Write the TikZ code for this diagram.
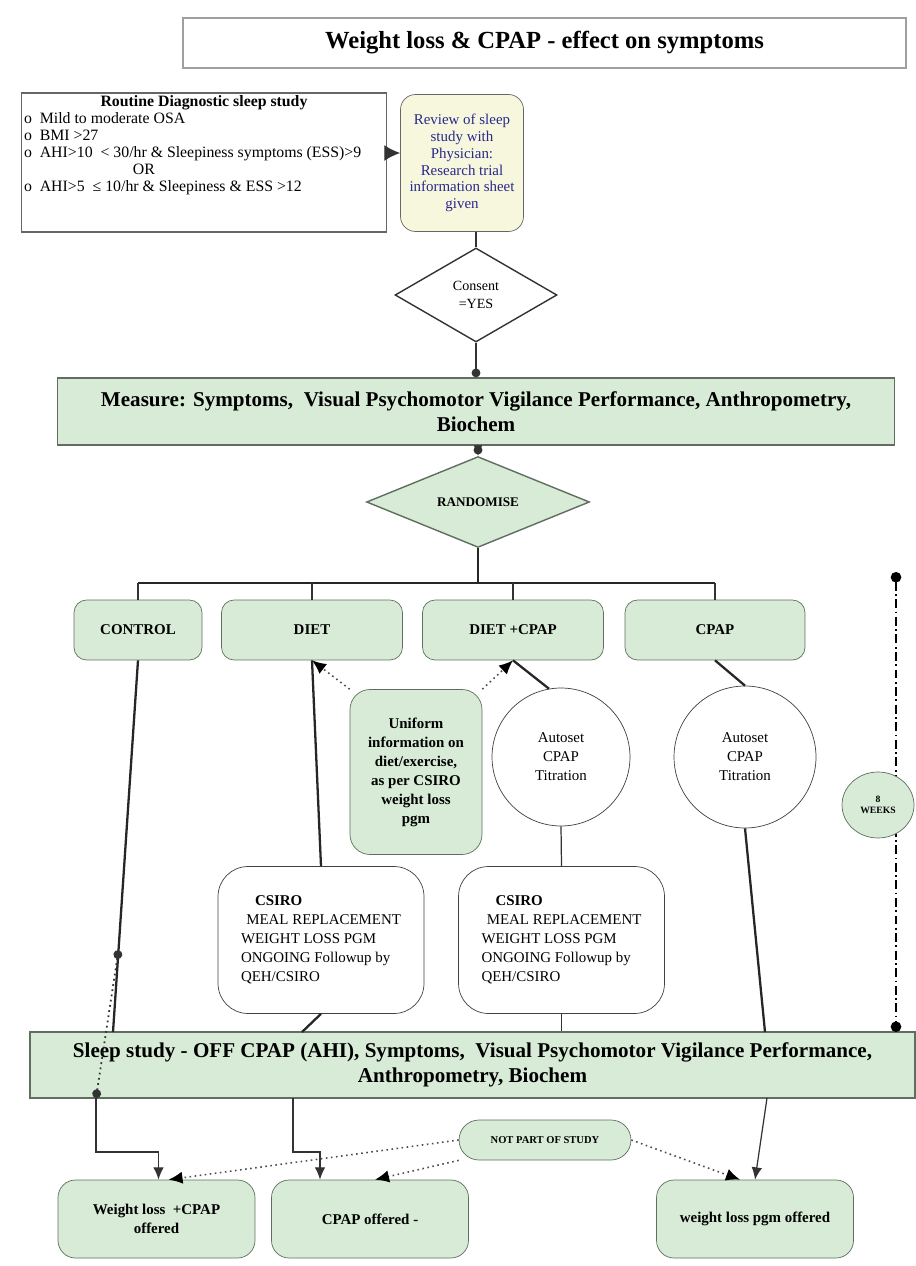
\documentclass[tikz,border=0pt]{standalone}
\usepackage{fontspec}
\setmainfont{Liberation Serif}
\usetikzlibrary{shapes.geometric,arrows.meta,calc}
\definecolor{boxgreen}{RGB}{215,235,215}
\definecolor{boxedge}{RGB}{95,110,95}
\definecolor{notecream}{RGB}{247,247,222}
\definecolor{notetext}{RGB}{40,40,140}

\begin{document}
\begin{tikzpicture}[x=0.02cm, y=-0.02cm,
        titlebox/.style={draw=gray!75, line width=1pt, minimum width=14.46cm, minimum height=1cm, font=\fontsize{14}{16}\selectfont\bfseries},
        critbox/.style={draw=gray!80!black, line width=0.8pt, inner sep=1.5pt, font=\fontsize{9}{9.7}\selectfont},
        reviewbox/.style={draw=gray!80!black, fill=notecream, rounded corners=0.3cm, minimum width=2.46cm, minimum height=2.74cm, inner sep=1pt, align=center, text=notetext, font=\fontsize{8.5}{9.6}\selectfont},
        choicebox/.style={diamond, draw=black!80, line width=0.8pt, fill=white, inner sep=0pt, align=center, font=\fontsize{8}{10}\selectfont},
        greenbox/.style={draw=boxedge, fill=boxgreen, line width=0.8pt, align=center, font=\fontsize{12}{14.5}\selectfont\bfseries},
        groupbox/.style={draw=boxedge, fill=boxgreen, rounded corners=0.25cm, minimum height=1.2cm, font=\fontsize{8.5}{10}\selectfont\bfseries},
        infobox/.style={draw=boxedge, fill=boxgreen, rounded corners=0.4cm, minimum width=2.64cm, minimum height=3.3cm, inner sep=1pt, align=center, font=\fontsize{8.5}{10.8}\selectfont\bfseries},
        autobox/.style={circle, draw=black!75, fill=white, inner sep=0pt, align=center, font=\fontsize{8.5}{10.8}\selectfont},
        csirobox/.style={draw=black!75, fill=white, rounded corners=0.6cm, minimum width=4.12cm, minimum height=2.94cm, align=left, font=\fontsize{8.5}{10.8}\selectfont},
        outbox/.style={draw=boxedge, fill=boxgreen, rounded corners=0.35cm, minimum width=3.94cm, minimum height=1.56cm, align=center, font=\fontsize{8.5}{10.5}\selectfont\bfseries},
        notebox/.style={draw=boxedge, fill=boxgreen, rounded corners=0.4cm, minimum width=3.44cm, minimum height=0.8cm, font=\fontsize{6}{7}\selectfont\bfseries},
        weekbox/.style={ellipse, draw=boxedge, fill=boxgreen, minimum width=1.44cm, minimum height=1.32cm, inner sep=0pt, align=center, font=\fontsize{5.5}{6.5}\selectfont\bfseries},
        link/.style={draw=black!80, line width=0.7pt},
        heavylink/.style={draw=black!85, line width=1.3pt},
        arrow/.style={link, -{Latex[length=7pt,width=6pt]}},
        dotarrow/.style={draw=black!70, line width=0.9pt, dotted, -{Latex[length=8pt,width=7pt,color=black]}},
        dashdot/.style={draw=black, line width=0.9pt, dash pattern=on 5pt off 2pt on 1pt off 2pt}
    ]
    \useasboundingbox (0,0) rectangle (915,1266);
    % Nodes
    \node[titlebox] (title) at (544.5,43) {Weight loss \& CPAP - effect on symptoms};
    \node[critbox] (crit) at (204,162.5) {\parbox[c][2.68cm][t]{7.2cm}{%
        {\centering\textbf{Routine Diagnostic sleep study}\par}
        \raggedright
        o\enspace Mild to moderate OSA\par
        o\enspace BMI >27\par
        o\enspace AHI>10\enspace < 30/hr \& Sleepiness symptoms (ESS)>9\par
        \hspace*{62pt}OR\par
        o\enspace AHI>5\enspace ≤ 10/hr \& Sleepiness \& ESS >12\par}};
    \node[reviewbox] (review) at (462,163) {Review of sleep\\study with\\Physician:\\Research trial\\information sheet\\given};
    \node[choicebox, minimum width=3.24cm, minimum height=1.88cm] (consent) at (476,295) {Consent\\=YES};
    \node[greenbox, minimum width=16.74cm, minimum height=1.34cm] (measure) at (476,411.5) {Measure: Symptoms,\ \ Visual Psychomotor Vigilance Performance, Anthropometry,\\Biochem};
    \node[choicebox, fill=boxgreen, draw=boxedge, minimum width=4.46cm, minimum height=1.46cm, font=\fontsize{7.5}{9}\selectfont\bfseries] (rand) at (478,502) {RANDOMISE};
    \node[groupbox, minimum width=2.56cm] (control) at (138,630) {CONTROL};
    \node[groupbox, minimum width=3.62cm] (diet) at (312,630) {DIET};
    \node[groupbox, minimum width=3.62cm] (dietcpap) at (513,630) {DIET +CPAP};
    \node[groupbox, minimum width=3.6cm] (cpap) at (715,630) {CPAP};
    \node[infobox] (uniform) at (416,772) {Uniform\\information on\\diet/exercise,\\as per CSIRO\\weight loss\\pgm};
    \node[autobox, minimum size=2.76cm] (auto1) at (561,757) {Autoset\\CPAP\\Titration};
    \node[autobox, minimum size=2.84cm] (auto2) at (745,757) {Autoset\\CPAP\\Titration};
    \node[csirobox] (csiro1) at (321,940) {\hspace*{8pt}\textbf{CSIRO}\\\hspace*{3pt}MEAL REPLACEMENT\\WEIGHT LOSS PGM\\ONGOING Followup by\\QEH/CSIRO};
    \node[csirobox] (csiro2) at (561.5,940) {\hspace*{8pt}\textbf{CSIRO}\\\hspace*{3pt}MEAL REPLACEMENT\\WEIGHT LOSS PGM\\ONGOING Followup by\\QEH/CSIRO};
    \node[greenbox, minimum width=17.7cm, minimum height=1.32cm] (sleep) at (472.5,1065) {Sleep study - OFF CPAP (AHI), Symptoms,\ \ Visual Psychomotor Vigilance Performance,\\Anthropometry, Biochem};
    \node[notebox] (notpart) at (545,1140) {NOT PART OF STUDY};
    \node[outbox] (wlcpap) at (156.5,1219) {Weight loss\ \ +CPAP\\offered};
    \node[outbox] (cpapoff) at (370,1219) {CPAP offered -};
    \node[outbox] (wlpgm) at (755,1219) {weight loss pgm offered};
    % Edges
    \draw[arrow, -{Latex[length=9pt,width=9pt]}] ([yshift=0.19cm]crit.east) -- ([yshift=0.19cm]crit.east -| review.west);
    \draw[link] (consent.north |- review.south) -- (consent.north);
    \draw[link, -{Circle[length=5pt]}] (consent.south) -- (measure.north -| consent.south);
    \draw[link, {Circle[length=5pt]}-{Latex[length=6pt,width=5pt]}] (measure.south -| rand.north) -- (rand.north);
    \coordinate (bus) at (478,583);
    \draw[heavylink] (rand.south) -- (bus);
    \draw[heavylink] (control.north |- bus) -- (cpap.north |- bus);
    \foreach \g in {control,diet,dietcpap,cpap}
        \draw[link] (\g.north |- bus) -- (\g.north);
    \draw[dotarrow] (uniform.north west) -- (diet.south);
    \draw[dotarrow] (uniform.north east) -- (dietcpap.south);
    % control arm
    \coordinate (ctrlin) at (113,1032);
    \coordinate (ctrldot) at ($(control.south)!0.78!(ctrlin)$);
    \coordinate (ctrlout) at (96,1098);
    \draw[heavylink] (control.south) -- (ctrlin);
    \draw[draw=black!80, line width=1pt, dotted, {Circle[length=5pt]}-{Circle[length=5pt]}] (ctrldot) -- (ctrlout);
    \draw[arrow] (ctrlout) -- ++(0,54) -| ([xshift=0.04cm]wlcpap.north);
    % diet arm
    \coordinate (dietin) at (302,1032);
    \coordinate (dietout) at (293,1098);
    \draw[heavylink] (diet.south) -- (csiro1.north);
    \draw[heavylink] (csiro1.south) -- (dietin);
    \draw[arrow] (dietout) -- ++(0,54) -| ([xshift=-1cm]cpapoff.north);
    % diet + cpap arm
    \draw[heavylink] (dietcpap.south) -- (auto1.100);
    \draw[link] (auto1.south) -- (csiro2.north);
    \draw[link] (csiro2.south) -- (csiro2.south |- sleep.north);
    % cpap arm
    \coordinate (cpapin) at (765,1032);
    \coordinate (cpapout) at (767,1098);
    \draw[heavylink] (cpap.south) -- (auto2.north);
    \draw[heavylink] (auto2.south) -- (cpapin);
    \draw[arrow] (cpapout) -- (wlpgm.north);
    % not part of study
    \draw[dotarrow] (notpart.west) -- ([xshift=0.24cm]wlcpap.north);
    \draw[dotarrow] (notpart.south west) -- ([xshift=0.1cm]cpapoff.north);
    \draw[dotarrow] (notpart.east) -- ([xshift=-0.3cm]wlpgm.north);
    % 8 weeks
    \coordinate (weektop) at (896,572);
    \coordinate (weekbot) at (896,1032);
    \draw[dashdot, {Circle[length=6pt]}-{Circle[length=6pt]}] (weektop) -- (weekbot);
    \node[weekbox] (weeks) at (878,805) {8\\WEEKS};
\end{tikzpicture}
\end{document}
